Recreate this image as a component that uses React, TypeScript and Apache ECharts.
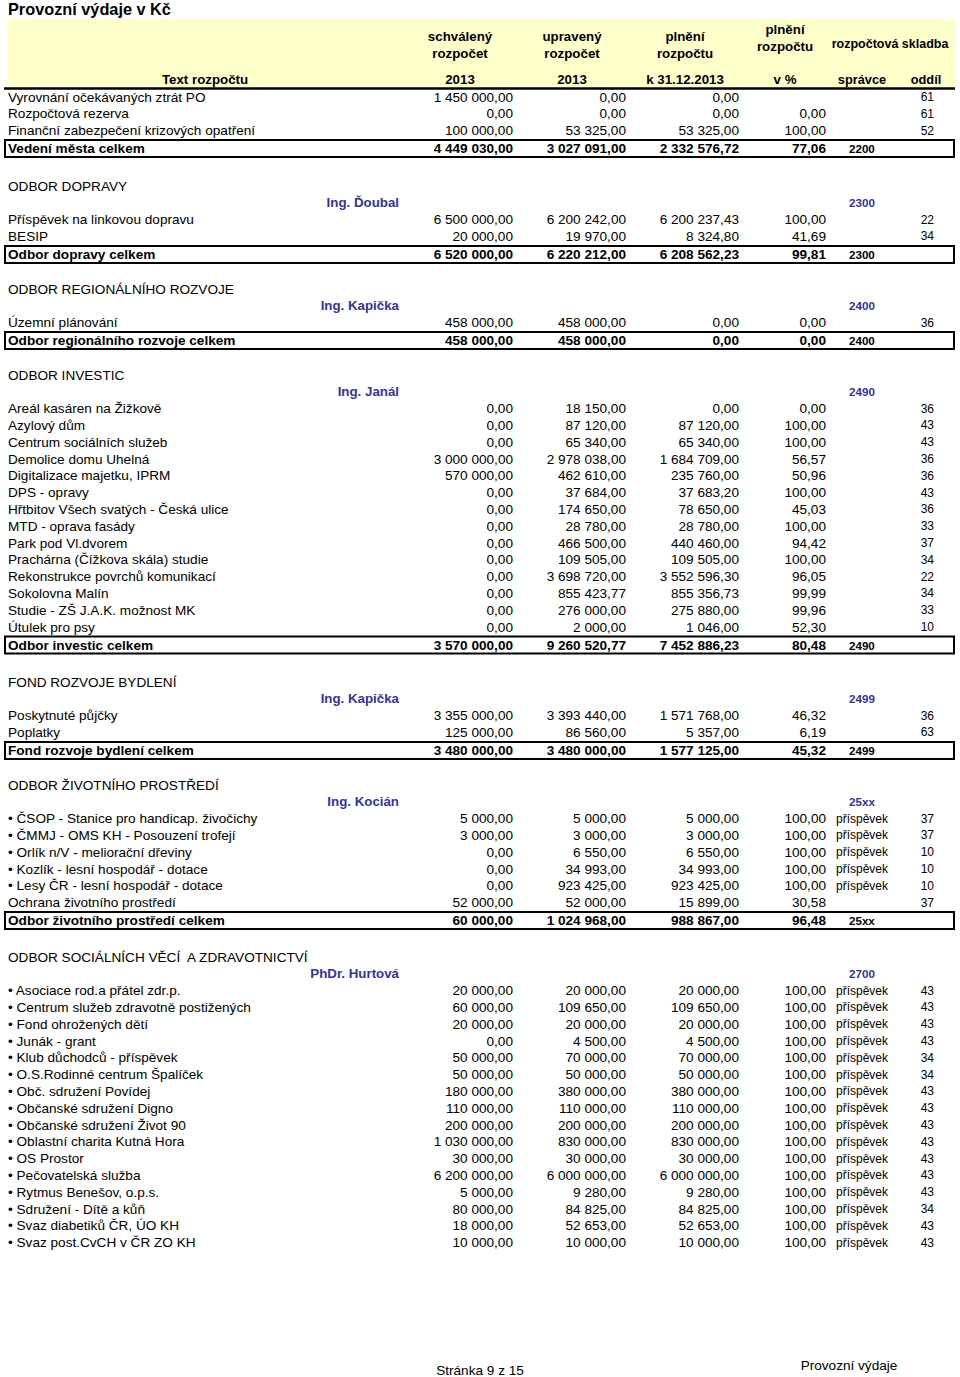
import React, { useEffect, useRef } from "react";
import * as echarts from "echarts";

// [text, schválený 2013, upravený 2013, plnění k 31.12.2013, plnění v %, správce note, oddíl]
type Item = [string, number, number, number, number | null, string, string];
type Total = [string, number, number, number, number, string];

const columnHeaders = ["schválený", "upravený", "plnění", "plnění"];
const columnHeaders2 = ["rozpočet", "rozpočet", "rozpočtu", "rozpočtu"];
const columnYears = ["2013", "2013", "k 31.12.2013", "v %"];

const vedeniItems: Item[] = [
  ["Vyrovnání očekávaných ztrát PO", 1450000, 0, 0, null, "", "61"],
  ["Rozpočtová rezerva", 0, 0, 0, 0, "", "61"],
  ["Finanční zabezpečení krizových opatření", 100000, 53325, 53325, 100, "", "52"],
];
const vedeniTotal: Total = ["Vedení města celkem", 4449030, 3027091, 2332576.72, 77.06, "2200"];

const dopravaItems: Item[] = [
  ["Příspěvek na linkovou dopravu", 6500000, 6200242, 6200237.43, 100, "", "22"],
  ["BESIP", 20000, 19970, 8324.8, 41.69, "", "34"],
];
const dopravaTotal: Total = ["Odbor dopravy celkem", 6520000, 6220212, 6208562.23, 99.81, "2300"];

const regionItems: Item[] = [
  ["Územní plánování", 458000, 458000, 0, 0, "", "36"],
];
const regionTotal: Total = ["Odbor regionálního rozvoje celkem", 458000, 458000, 0, 0, "2400"];

const investiceItems: Item[] = [
  ["Areál kasáren na Žižkově", 0, 18150, 0, 0, "", "36"],
  ["Azylový dům", 0, 87120, 87120, 100, "", "43"],
  ["Centrum sociálních služeb", 0, 65340, 65340, 100, "", "43"],
  ["Demolice domu Uhelná", 3000000, 2978038, 1684709, 56.57, "", "36"],
  ["Digitalizace majetku, IPRM", 570000, 462610, 235760, 50.96, "", "36"],
  ["DPS - opravy", 0, 37684, 37683.2, 100, "", "43"],
  ["Hřtbitov Všech svatých - Česká ulice", 0, 174650, 78650, 45.03, "", "36"],
  ["MTD - oprava fasády", 0, 28780, 28780, 100, "", "33"],
  ["Park pod Vl.dvorem", 0, 466500, 440460, 94.42, "", "37"],
  ["Prachárna (Čížkova skála) studie", 0, 109505, 109505, 100, "", "34"],
  ["Rekonstrukce povrchů komunikací", 0, 3698720, 3552596.3, 96.05, "", "22"],
  ["Sokolovna Malín", 0, 855423.77, 855356.73, 99.99, "", "34"],
  ["Studie - ZŠ J.A.K. možnost MK", 0, 276000, 275880, 99.96, "", "33"],
  ["Útulek pro psy", 0, 2000, 1046, 52.3, "", "10"],
];
const investiceTotal: Total = ["Odbor investic celkem", 3570000, 9260520.77, 7452886.23, 80.48, "2490"];

const bydleniItems: Item[] = [
  ["Poskytnuté půjčky", 3355000, 3393440, 1571768, 46.32, "", "36"],
  ["Poplatky", 125000, 86560, 5357, 6.19, "", "63"],
];
const bydleniTotal: Total = ["Fond rozvoje bydlení celkem", 3480000, 3480000, 1577125, 45.32, "2499"];

const prostrediItems: Item[] = [
  ["• ČSOP - Stanice pro handicap. živočichy", 5000, 5000, 5000, 100, "příspěvek", "37"],
  ["• ČMMJ - OMS KH - Posouzení trofejí", 3000, 3000, 3000, 100, "příspěvek", "37"],
  ["• Orlík n/V - meliorační dřeviny", 0, 6550, 6550, 100, "příspěvek", "10"],
  ["• Kozlík - lesní hospodář - dotace", 0, 34993, 34993, 100, "příspěvek", "10"],
  ["• Lesy ČR - lesní hospodář - dotace", 0, 923425, 923425, 100, "příspěvek", "10"],
  ["Ochrana životního prostředí", 52000, 52000, 15899, 30.58, "", "37"],
];
const prostrediTotal: Total = ["Odbor životního prostředí celkem", 60000, 1024968, 988867, 96.48, "25xx"];

const socialniItems: Item[] = [
  ["• Asociace rod.a přátel zdr.p.", 20000, 20000, 20000, 100, "příspěvek", "43"],
  ["• Centrum služeb zdravotně postižených", 60000, 109650, 109650, 100, "příspěvek", "43"],
  ["• Fond ohrožených dětí", 20000, 20000, 20000, 100, "příspěvek", "43"],
  ["• Junák - grant", 0, 4500, 4500, 100, "příspěvek", "43"],
  ["• Klub důchodců - příspěvek", 50000, 70000, 70000, 100, "příspěvek", "34"],
  ["• O.S.Rodinné centrum Špalíček", 50000, 50000, 50000, 100, "příspěvek", "34"],
  ["• Obč. sdružení Povídej", 180000, 380000, 380000, 100, "příspěvek", "43"],
  ["• Občanské sdružení Digno", 110000, 110000, 110000, 100, "příspěvek", "43"],
  ["• Občanské sdružení Život 90", 200000, 200000, 200000, 100, "příspěvek", "43"],
  ["• Oblastní charita Kutná Hora", 1030000, 830000, 830000, 100, "příspěvek", "43"],
  ["• OS Prostor", 30000, 30000, 30000, 100, "příspěvek", "43"],
  ["• Pečovatelská služba", 6200000, 6000000, 6000000, 100, "příspěvek", "43"],
  ["• Rytmus Benešov, o.p.s.", 5000, 9280, 9280, 100, "příspěvek", "43"],
  ["• Sdružení - Dítě a kůň", 80000, 84825, 84825, 100, "příspěvek", "34"],
  ["• Svaz diabetiků ČR, ÚO KH", 18000, 52653, 52653, 100, "příspěvek", "43"],
  ["• Svaz post.CvCH v ČR ZO KH", 10000, 10000, 10000, 100, "příspěvek", "43"],
];

type Section = { title: string; manager: string; code: string; items: Item[]; total: Total | null };

const sections: Section[] = [
  { title: "", manager: "", code: "", items: vedeniItems, total: vedeniTotal },
  { title: "ODBOR DOPRAVY", manager: "Ing. Ďoubal", code: "2300", items: dopravaItems, total: dopravaTotal },
  { title: "ODBOR REGIONÁLNÍHO ROZVOJE", manager: "Ing. Kapička", code: "2400", items: regionItems, total: regionTotal },
  { title: "ODBOR INVESTIC", manager: "Ing. Janál", code: "2490", items: investiceItems, total: investiceTotal },
  { title: "FOND ROZVOJE BYDLENÍ", manager: "Ing. Kapička", code: "2499", items: bydleniItems, total: bydleniTotal },
  { title: "ODBOR ŽIVOTNÍHO PROSTŘEDÍ", manager: "Ing. Kocián", code: "25xx", items: prostrediItems, total: prostrediTotal },
  { title: "ODBOR SOCIÁLNÍCH VĚCÍ  A ZDRAVOTNICTVÍ", manager: "PhDr. Hurtová", code: "2700", items: socialniItems, total: null },
];

// layout (page positions of each section's first line)
const SECTION_TOP = [97, 186, 289, 375, 682, 785, 957];

const FONT = '"Liberation Sans", Arial, Helvetica, sans-serif';
const NAVY = "#333399";
const BODY = 13.6;
const HEAD = 13.3;
const SMALL = 12;
const CODE = 11.6;

function fmt(n: number): string {
  const s = n.toFixed(2);
  const [i, d] = s.split(".");
  return i.replace(/\B(?=(\d{3})+(?!\d))/g, " ") + "," + d;
}

function txt(x: number, y: number, text: string, o: any = {}) {
  const align = o.align || "left";
  return {
    type: "text",
    x,
    y,
    silent: true,
    style: {
      text,
      fill: o.color || "#000",
      fontSize: o.size || BODY,
      fontWeight: o.bold ? "bold" : "normal",
      fontFamily: FONT,
      align,
      textAlign: align,
      verticalAlign: "middle",
      textVerticalAlign: "middle",
    },
  };
}

const NUM_RIGHT = [513, 626, 739, 826];
const COL_CENTER = [460, 572, 685, 785];
const SPRAVCE_X = 862;
const ODDIL_RIGHT = 934;

function buildElements() {
  const els: any[] = [];
  els.push(txt(8, 9, "Provozní výdaje v Kč", { size: 16.3, bold: true }));
  els.push({ type: "rect", silent: true, shape: { x: 8, y: 19, width: 947, height: 68 }, style: { fill: "#FFFFCC" } });
  for (let c = 0; c < 4; c++) {
    const top = c === 3 ? 29 : 36;
    els.push(txt(COL_CENTER[c], top, columnHeaders[c], { bold: true, size: HEAD, align: "center" }));
    els.push(txt(COL_CENTER[c], top + 17.5, columnHeaders2[c], { bold: true, size: HEAD, align: "center" }));
    els.push(txt(COL_CENTER[c], 79, columnYears[c], { bold: true, size: HEAD, align: "center" }));
  }
  els.push(txt(890, 44, "rozpočtová skladba", { bold: true, size: 12.5, align: "center" }));
  els.push(txt(205, 79, "Text rozpočtu", { bold: true, size: HEAD, align: "center" }));
  els.push(txt(SPRAVCE_X, 79, "správce", { bold: true, size: 12.8, align: "center" }));
  els.push(txt(926, 79, "oddíl", { bold: true, size: 12.8, align: "center" }));
  els.push({ type: "line", silent: true, shape: { x1: 4, y1: 88.5, x2: 955, y2: 88.5 }, style: { stroke: "#000", lineWidth: 2.5 } });

  const STEP = 16.8;
  sections.forEach((sec, si) => {
    let y = SECTION_TOP[si];
    if (sec.title) {
      els.push(txt(8, y, sec.title));
      y += STEP;
      els.push(txt(399, y, sec.manager, { bold: true, size: HEAD, color: NAVY, align: "right" }));
      els.push(txt(SPRAVCE_X, y, sec.code, { bold: true, size: CODE, color: NAVY, align: "center" }));
      y += STEP;
    }
    sec.items.forEach((it) => {
      els.push(txt(8, y, it[0]));
      for (let c = 0; c < 4; c++) {
        const v = it[1 + c] as number | null;
        if (v !== null) els.push(txt(NUM_RIGHT[c], y, fmt(v), { align: "right" }));
      }
      if (it[5]) els.push(txt(SPRAVCE_X, y, it[5], { size: SMALL, align: "center" }));
      els.push(txt(ODDIL_RIGHT, y, it[6], { size: SMALL, align: "right" }));
      y += STEP;
    });
    if (sec.total) {
      y += 18 - STEP;
      const t = sec.total;
      els.push({ type: "rect", silent: true, shape: { x: 5, y: y - 8.5, width: 949, height: 17 }, style: { fill: "none", stroke: "#000", lineWidth: 2 } });
      els.push(txt(8, y, t[0], { bold: true }));
      for (let c = 0; c < 4; c++) els.push(txt(NUM_RIGHT[c], y, fmt(t[1 + c] as number), { bold: true, align: "right" }));
      els.push(txt(SPRAVCE_X - 13, y, t[5], { bold: true, size: CODE }));
    }
  });

  els.push(txt(480, 1370, "Stránka 9 z 15", { align: "center" }));
  els.push(txt(849, 1365, "Provozní výdaje", { align: "center" }));
  return els;
}

export default function App() {
  const ref = useRef<HTMLDivElement>(null);
  useEffect(() => {
    document.body.style.margin = "0";
    const chart = echarts.init(ref.current!, null, { renderer: "svg" });
    chart.setOption({
      animation: false,
      backgroundColor: "#fff",
      graphic: { elements: buildElements() },
    });
    return () => chart.dispose();
  }, []);
  return <div ref={ref} style={{ width: 960, height: 1377 }} />;
}
